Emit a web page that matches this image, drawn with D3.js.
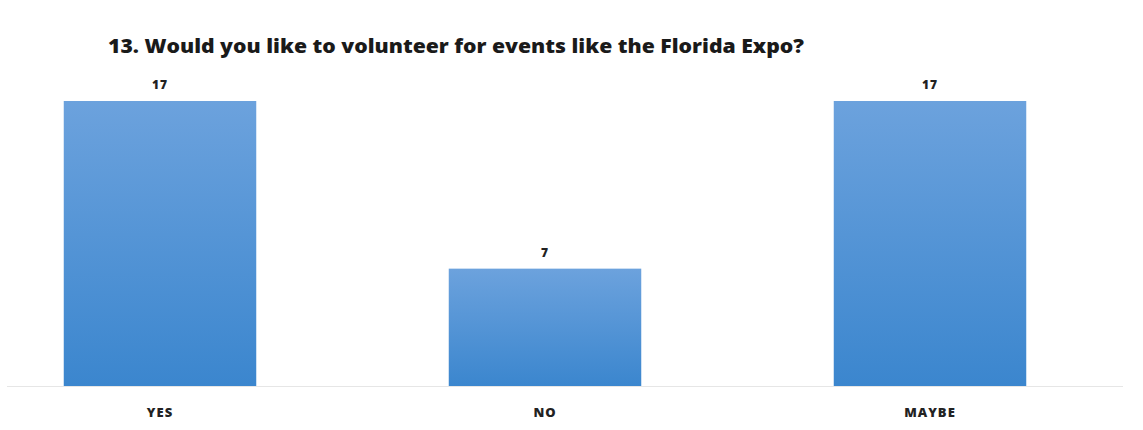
<!DOCTYPE html>
<html>
<head>
<meta charset="utf-8">
<script src="https://cdn.jsdelivr.net/npm/d3@7"></script>
<style>
  body { margin: 0; background: #fff; }
  text { font-family: "Open Sans", "Noto Sans", sans-serif; font-weight: bold; fill: #222; }
</style>
</head>
<body>
<svg id="chart"></svg>
<script>
var categories = ['YES', 'NO', 'MAYBE'];
var counts = [17, 7, 17];
var title = '13. Would you like to volunteer for events like the Florida Expo?';

var width = 1143,
  height = 430;

var svg = d3.select('#chart')
  .attr('width', width)
  .attr('height', height);

var baseY = 386;

var x = d3.scaleBand()
  .domain(categories)
  .range([-32.5, 1122.5])
  .paddingInner(0.5)
  .paddingOuter(0.25);

var y = d3.scaleLinear()
  .domain([0, 17])
  .range([baseY, 101]);

var grad = svg.append('defs').append('linearGradient')
  .attr('id', 'barGrad')
  .attr('x1', 0).attr('y1', 0)
  .attr('x2', 0).attr('y2', 1);
grad.append('stop').attr('offset', '0%').attr('stop-color', '#6ca2dd');
grad.append('stop').attr('offset', '100%').attr('stop-color', '#3b86ce');

// title (the source is stretched wide, so fit it to its length)
svg.append('text')
  .attr('x', 108)
  .attr('y', 53)
  .attr('textLength', 696)
  .attr('lengthAdjust', 'spacingAndGlyphs')
  .style('font-size', '20px')
  .style('font-weight', 800)
  .style('fill', '#1a1a1a')
  .text(title);

// baseline
svg.append('line')
  .attr('x1', 7).attr('x2', 1123)
  .attr('y1', baseY + 0.5).attr('y2', baseY + 0.5)
  .attr('stroke', '#e6e6e6');

var data = categories.map(function(c, i){ return {cat: c, value: counts[i]}; });

svg.selectAll('.bar')
  .data(data)
  .enter()
  .append('rect')
  .attr('class', 'bar')
  .attr('x', function(d){ return x(d.cat); })
  .attr('width', x.bandwidth())
  .attr('y', function(d){ return y(d.value); })
  .attr('height', function(d){ return baseY - y(d.value); })
  .attr('fill', 'url(#barGrad)');

// value labels
svg.selectAll('.val')
  .data(data)
  .enter()
  .append('text')
  .attr('class', 'val')
  .attr('x', function(d){ return x(d.cat) + x.bandwidth()/2; })
  .attr('y', function(d){ return y(d.value) - 12; })
  .attr('text-anchor', 'middle')
  .style('font-size', '12px')
  .style('font-weight', 800)
  .style('letter-spacing', '1px')
  .text(function(d){ return d.value; });

// category axis
var xAxis = d3.axisBottom(x).tickSize(0).tickPadding(22);
var axisG = svg.append('g')
  .attr('transform', 'translate(0,' + baseY + ')')
  .call(xAxis);
axisG.select('.domain').remove();
axisG.selectAll('text')
  .style('font-size', '13px')
  .style('letter-spacing', '1px')
  .style('font-family', '"Open Sans", sans-serif')
  .style('font-weight', 800)
  .attr('fill', '#222');
</script>
</body>
</html>
